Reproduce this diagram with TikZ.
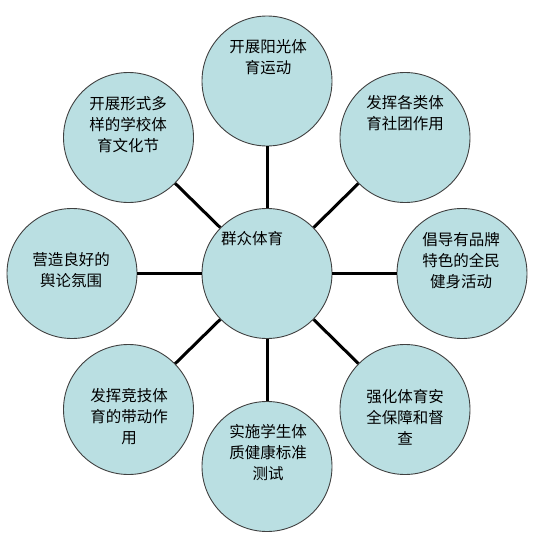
\documentclass[tikz,border=0pt]{standalone}
\usepackage{fontspec}
\newfontfamily\cjk{Noto Sans CJK SC}
\definecolor{bubble}{RGB}{186,223,226}
\definecolor{rim}{RGB}{64,64,64}
\begin{document}
\begin{tikzpicture}[x=1pt,y=-1pt,
  bub/.style={circle,draw=rim,line width=0.9pt,fill=bubble,minimum size=130pt,inner sep=0pt},
  txt/.style={align=center,font=\cjk\fontsize{15.5}{21}\selectfont,inner sep=0pt},
  link/.style={line width=3pt,draw=black}]
\useasboundingbox (0,0) rectangle (534,541);
\node[bub] (c0) at (267,273.5) {};
\node[bub] (c1) at (267,81) {};
\node[bub] (c2) at (405,137.5) {};
\node[bub] (c3) at (462,273.5) {};
\node[bub] (c4) at (405,409.5) {};
\node[bub] (c5) at (267,466.5) {};
\node[bub] (c6) at (128.5,409.5) {};
\node[bub] (c7) at (72,273.5) {};
\node[bub] (c8) at (128.5,137.5) {};
\foreach \i in {1,...,8} \draw[link] (c0) -- (c\i);
\node[txt] (t0) at (252,239) {群众体育};
\node[txt] (t1) at (268,57.5) {开展阳光体\\育运动};
\node[txt] (t2) at (405,113.5) {发挥各类体\\育社团作用};
\node[txt] (t3) at (461,261) {倡导有品牌\\特色的全民\\健身活动};
\node[txt] (t4) at (405,417) {强化体育安\\全保障和督\\查};
\node[txt] (t5) at (268,453) {实施学生体\\质健康标准\\测试};
\node[txt] (t6) at (129,417) {发挥竞技体\\育的带动作\\用};
\node[txt] (t7) at (71,270.5) {营造良好的\\舆论氛围};
\node[txt] (t8) at (128,124.5) {开展形式多\\样的学校体\\育文化节};
\end{tikzpicture}
\end{document}
